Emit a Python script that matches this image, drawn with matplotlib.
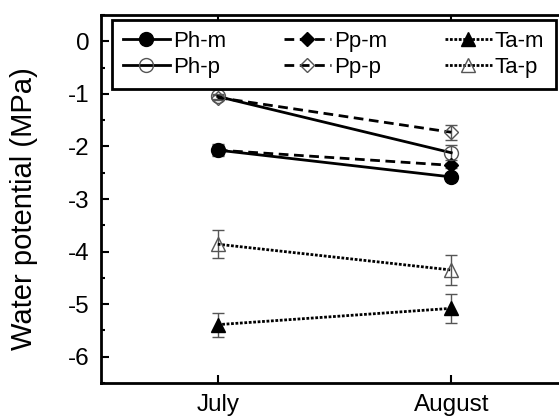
import numpy as np
import matplotlib
matplotlib.use("Agg")
import matplotlib.pyplot as plt

plt.rcParams['font.family'] = ['Liberation Sans', 'DejaVu Sans']

months = ['July', 'August']

ph_m = [-2.07, -2.58]
ph_m_err = [0.12, 0.05]
ph_p = [-1.05, -2.12]
ph_p_err = [0.05, 0.14]
pp_m = [-2.07, -2.36]
pp_m_err = [0.10, 0.05]
pp_p = [-1.07, -1.73]
pp_p_err = [0.05, 0.14]
ta_m = [-5.39, -5.08]
ta_m_err = [0.23, 0.28]
ta_p = [-3.86, -4.35]
ta_p_err = [0.27, 0.28]

x = np.arange(1, len(months) + 1)

fig = plt.figure(figsize=(5.59, 4.17), dpi=100)
ax = fig.add_axes([101 / 559, 1 - 383 / 417, 467 / 559, 368 / 417])

# error bars first, gray and thin
for vals, errs in [(ph_m, ph_m_err), (ph_p, ph_p_err), (pp_m, pp_m_err),
                   (pp_p, pp_p_err), (ta_m, ta_m_err), (ta_p, ta_p_err)]:
    ax.errorbar(x, vals, yerr=errs, fmt='none', ecolor='#555555',
                elinewidth=1, capsize=4, capthick=1, zorder=2)

lw = 2.0
gray = '#555555'
dash = (3.5, 2)
dot = (1, 0.6)
ax.plot(x, ph_m, '-', color='black', lw=lw, marker='o', ms=10,
        mfc='black', mec='black', label='Ph-m', zorder=3)
ax.plot(x, pp_m, '--', color='black', lw=lw, marker='D', ms=7,
        mfc='black', mec='black', label='Pp-m', dashes=dash, zorder=3)
ax.plot(x, ta_m, ':', color='black', lw=lw, marker='^', ms=10,
        mfc='black', mec='black', label='Ta-m', dashes=dot, zorder=3)
ax.plot(x, ph_p, '-', color='black', lw=lw, marker='o', ms=10,
        mfc='none', mec=gray, mew=1, label='Ph-p', zorder=3)
ax.plot(x, pp_p, '--', color='black', lw=lw, marker='D', ms=7,
        mfc='none', mec=gray, mew=1, label='Pp-p', dashes=dash, zorder=3)
ax.plot(x, ta_p, ':', color='black', lw=lw, marker='^', ms=10,
        mfc='none', mec=gray, mew=1, label='Ta-p', dashes=dot, zorder=3)

ax.set_xlim(0.5, 2.5)
ax.set_ylim(-6.5, 0.5)
ax.set_xticks(x)
ax.set_xticklabels(months)
ax.set_yticks(np.arange(-6, 1, 1))
ax.set_yticklabels([str(v) for v in range(-6, 1)])
ax.set_yticks(np.arange(-6.5, 0.6, 0.5), minor=True)

ax.tick_params(which='both', direction='in', top=True, right=True,
               width=1.5, labelsize=17.5)
ax.tick_params(which='major', length=6)
ax.tick_params(which='minor', length=3)
ax.tick_params(axis='y', pad=8)
ax.tick_params(axis='x', pad=8)
for s in ax.spines.values():
    s.set_linewidth(2)

ax.set_ylabel('Water potential (MPa)', fontsize=21)
ax.yaxis.set_label_coords(-0.135, 0.475)

# legend order: rows m then p
handles, labels = ax.get_legend_handles_labels()
order = [0, 3, 1, 4, 2, 5]
leg = ax.legend([handles[i] for i in order], [labels[i] for i in order],
                ncol=3, loc='upper left',
                bbox_to_anchor=(112 / 559, 1 - 20 / 417),
                bbox_transform=fig.transFigure,
                fontsize=16, handlelength=2.1, handletextpad=0.15,
                columnspacing=2.6, labelspacing=0.2, borderpad=0.5,
                borderaxespad=0, fancybox=False, framealpha=1,
                edgecolor='black')
leg.get_frame().set_linewidth(2)

fig.savefig('out.png', dpi=100)
